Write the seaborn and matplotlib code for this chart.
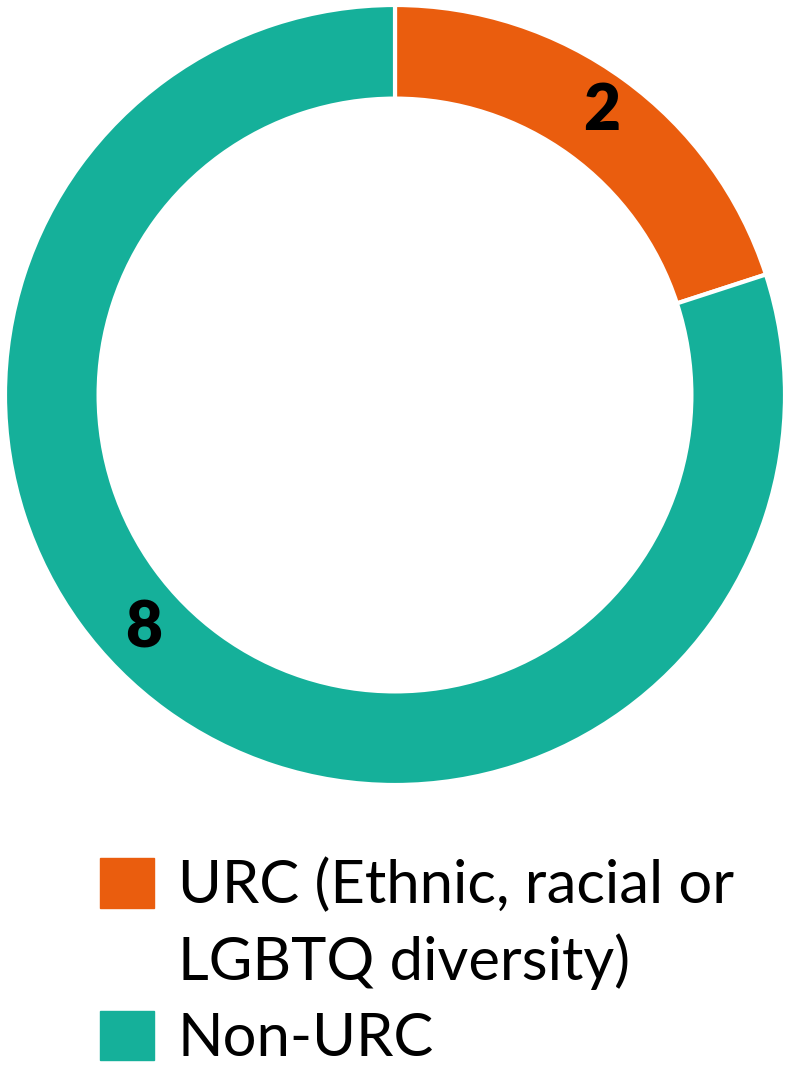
import numpy as np
import matplotlib
matplotlib.use("Agg")
import matplotlib.pyplot as plt
import matplotlib.patches as mpatches
import seaborn as sns

# === Datos ===
categorias = ["URC (Ethnic, racial or\nLGBTQ diversity)", "Non-URC"]
valores = [2, 8]
colores = ["#EA5D0E", "#15B09A"]

sns.set_theme(style="white")
plt.rcParams['font.family'] = ['Lato', 'DejaVu Sans']

fig = plt.figure(figsize=(7.9, 10.75), dpi=100)
ax = fig.add_axes([5 / 790, 1 - 785 / 1075, 780 / 790, 780 / 1075])

# === Donut ===
wedges, _ = ax.pie(valores, colors=colores, startangle=90, counterclock=False,
                   radius=1.0,
                   wedgeprops=dict(width=0.24, edgecolor="white", linewidth=3))
ax.set_aspect("equal")
ax.set_xlim(-1, 1)
ax.set_ylim(-1, 1)
ax.axis("off")

# === Etiquetas de valores ===
desplaz = [0, -11]  # ajuste angular de la etiqueta
radios = [0.9, 0.88]
for w, v, d, r in zip(wedges, valores, desplaz, radios):
    ang = np.deg2rad((w.theta1 + w.theta2) / 2 + d)
    ax.text(r * np.cos(ang), r * np.sin(ang), str(v), ha="center", va="center",
            fontsize=46, fontweight="heavy", color="black")

# === Leyenda ===
lineas = categorias[0].split("\n")
handles = [mpatches.Patch(color=colores[0]),
           mpatches.Patch(color="none"),
           mpatches.Patch(color=colores[1])]
labels = [lineas[0], lineas[1], categorias[1]]
fig.legend(handles, labels, loc="upper left",
           bbox_to_anchor=(70 / 790, 1 - 828 / 1075),
           frameon=False, handlelength=0.9, handleheight=0.9,
           handletextpad=0.4, labelspacing=0.34, borderpad=0,
           labelcolor="black",
           prop=dict(family=['Lato', 'DejaVu Sans'], weight='normal', size=43))

fig.savefig("out.png", dpi=100)
